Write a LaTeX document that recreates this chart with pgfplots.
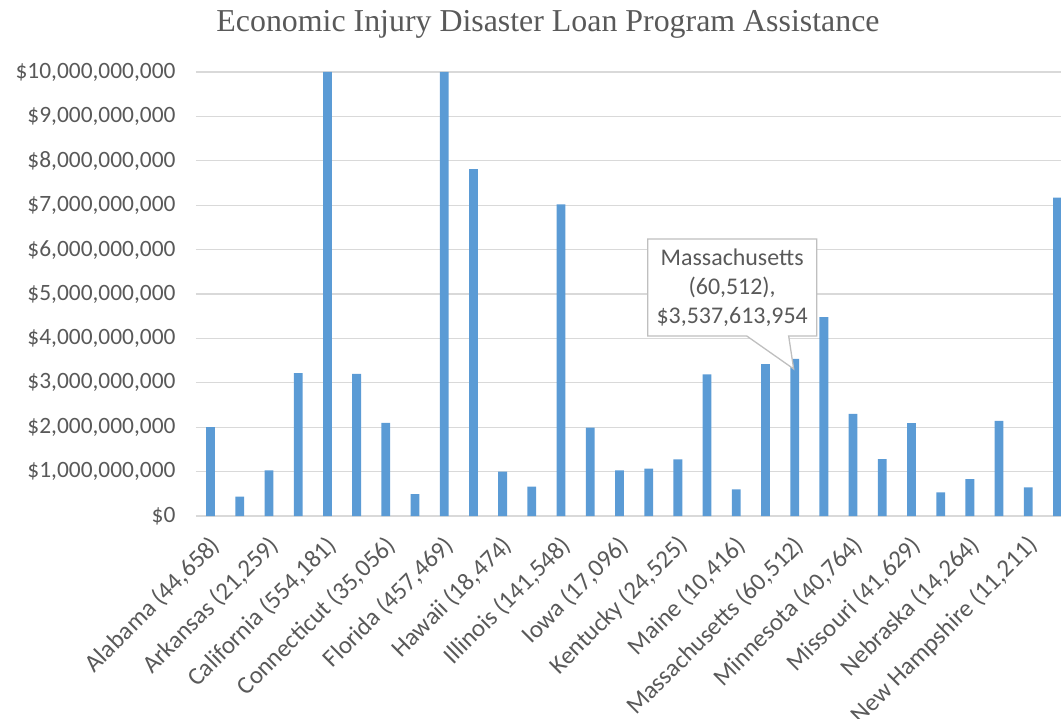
\documentclass[border=0pt]{standalone}
\usepackage{pgfplots}
\pgfplotsset{compat=1.18}
\usepackage{fontspec}
\setmainfont{Carlito}
\newfontfamily\titlefont{Liberation Serif}
\usetikzlibrary{calc}

\definecolor{barblue}{HTML}{5B9BD5}
\definecolor{txtgray}{HTML}{595959}
\definecolor{gridgray}{HTML}{D9D9D9}
\definecolor{boxgray}{HTML}{BFBFBF}

% EIDL assistance in dollars, one bar per category (x = position in list)
\pgfplotstableread{
x  amount
1  2000000000
2  435000000
3  1030000000
4  3220000000
5  10000000000
6  3200000000
7  2100000000
8  495000000
9  10000000000
10 7815000000
11 1000000000
12 660000000
13 7020000000
14 1990000000
15 1030000000
16 1065000000
17 1277000000
18 3190000000
19 600000000
20 3420000000
21 3537613954
22 4480000000
23 2300000000
24 1280000000
25 2090000000
26 530000000
27 830000000
28 2140000000
29 645000000
30 7170000000
}\eidl

\begin{document}
\begin{tikzpicture}
\begin{axis}[
  name=ax,
  scale only axis,
  width=865bp, height=444bp,
  xmin=0.5, xmax=30.12,
  ymin=0, ymax=10000000000,
  scaled y ticks=false,
  axis line style={draw=none},
  major tick length=0pt,
  ytick={0,1e9,2e9,3e9,4e9,5e9,6e9,7e9,8e9,9e9,1e10},
  yticklabels={{\$0},{\$1,000,000,000},{\$2,000,000,000},{\$3,000,000,000},
    {\$4,000,000,000},{\$5,000,000,000},{\$6,000,000,000},{\$7,000,000,000},
    {\$8,000,000,000},{\$9,000,000,000},{\$10,000,000,000}},
  xtick={1,3,...,29},
  xticklabels={{Alabama (44,658)},{Arkansas (21,259)},{California (554,181)},
    {Connecticut (35,056)},{Florida (457,469)},{Hawaii (18,474)},
    {Illinois (141,548)},{Iowa (17,096)},{Kentucky (24,525)},{Maine (10,416)},
    {Massachusetts (60,512)},{Minnesota (40,764)},{Missouri (41,629)},
    {Nebraska (14,264)},{New Hampshire (11,211)}},
  ymajorgrids,
  major grid style={draw=gridgray, line width=1.3bp},
  yticklabel style={font=\fontsize{23.5}{28}\selectfont, text=txtgray,
    anchor=east, xshift=-17bp},
  xticklabel style={font=\fontsize{25}{30}\selectfont, text=txtgray,
    xshift=7bp, yshift=-24bp, rotate=45, anchor=east, inner sep=2bp},
]
\addplot[ybar, bar width=8.8bp, bar shift=0pt, fill=barblue, draw=none]
  table[x=x, y=amount] {\eidl};

% data callout for Massachusetts
\coordinate (p) at (axis cs:21,3537613954);
\draw[draw=boxgray, line width=1.3bp, fill=white]
  ($(p)+(-147bp,120bp)$) -- ($(p)+(22bp,120bp)$) -- ($(p)+(22bp,23bp)$)
  -- ($(p)+(-6bp,23bp)$) -- ($(p)+(-1bp,-10bp)$) -- ($(p)+(-48bp,23bp)$)
  -- ($(p)+(-147bp,23bp)$) -- cycle;
\node[align=center, text=txtgray, font=\fontsize{24}{29}\selectfont]
  at ($(p)+(-62.5bp,71.5bp)$)
  {Massachusetts\\(60,512),\\\$3,537,613,954};
\end{axis}
\node[anchor=base, text=txtgray, font=\titlefont\fontsize{32}{37}\selectfont]
  at ([xshift=352bp, yshift=40bp]ax.north west)
  {Economic Injury Disaster Loan Program Assistance};
\pgfresetboundingbox
\path ([xshift=-196bp, yshift=-203bp]ax.south west) rectangle ([yshift=72bp]ax.north east);
\end{tikzpicture}
\end{document}
